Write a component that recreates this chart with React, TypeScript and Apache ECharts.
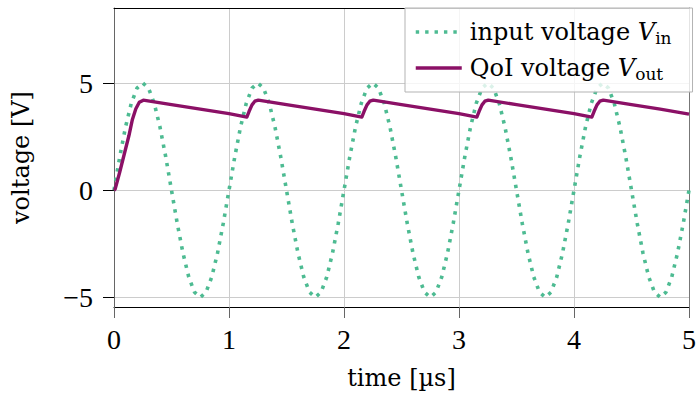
import React, { useEffect, useRef } from "react";
import * as echarts from "echarts";

// Input voltage V_in, sampled every 0.05 µs
const vinTimes = [
  0, 0.05, 0.1, 0.15, 0.2, 0.25, 0.3, 0.35, 0.4, 0.45, 0.5, 0.55, 0.6, 0.65, 0.7, 0.75, 0.8, 0.85, 0.9, 0.95,
  1, 1.05, 1.1, 1.15, 1.2, 1.25, 1.3, 1.35, 1.4, 1.45, 1.5, 1.55, 1.6, 1.65, 1.7, 1.75, 1.8, 1.85, 1.9, 1.95,
  2, 2.05, 2.1, 2.15, 2.2, 2.25, 2.3, 2.35, 2.4, 2.45, 2.5, 2.55, 2.6, 2.65, 2.7, 2.75, 2.8, 2.85, 2.9, 2.95,
  3, 3.05, 3.1, 3.15, 3.2, 3.25, 3.3, 3.35, 3.4, 3.45, 3.5, 3.55, 3.6, 3.65, 3.7, 3.75, 3.8, 3.85, 3.9, 3.95,
  4, 4.05, 4.1, 4.15, 4.2, 4.25, 4.3, 4.35, 4.4, 4.45, 4.5, 4.55, 4.6, 4.65, 4.7, 4.75, 4.8, 4.85, 4.9, 4.95,
  5,
];
const vinValues = [
  0, 1.55, 2.94, 4.05, 4.76, 5, 4.76, 4.05, 2.94, 1.55, 0, -1.55, -2.94, -4.05, -4.76, -5, -4.76, -4.05, -2.94, -1.55,
  0, 1.55, 2.94, 4.05, 4.76, 5, 4.76, 4.05, 2.94, 1.55, 0, -1.55, -2.94, -4.05, -4.76, -5, -4.76, -4.05, -2.94, -1.55,
  0, 1.55, 2.94, 4.05, 4.76, 5, 4.76, 4.05, 2.94, 1.55, 0, -1.55, -2.94, -4.05, -4.76, -5, -4.76, -4.05, -2.94, -1.55,
  0, 1.55, 2.94, 4.05, 4.76, 5, 4.76, 4.05, 2.94, 1.55, 0, -1.55, -2.94, -4.05, -4.76, -5, -4.76, -4.05, -2.94, -1.55,
  0, 1.55, 2.94, 4.05, 4.76, 5, 4.76, 4.05, 2.94, 1.55, 0, -1.55, -2.94, -4.05, -4.76, -5, -4.76, -4.05, -2.94, -1.55,
  0,
];

// Output (QoI) voltage V_out
const voutTimes = [
  0, 0.01, 0.05, 0.09, 0.13, 0.16, 0.19, 0.22, 0.255, 0.5, 0.75, 1.0,
  1.155, 1.175, 1.2, 1.225, 1.255, 1.5, 1.75, 2.0,
  2.155, 2.175, 2.2, 2.225, 2.255, 2.5, 2.75, 3.0,
  3.155, 3.175, 3.2, 3.225, 3.255, 3.5, 3.75, 4.0,
  4.155, 4.175, 4.2, 4.225, 4.255, 4.5, 4.75, 5.0,
];
const voutValues = [
  0, 0.05, 0.85, 1.7, 2.55, 3.3, 3.8, 4.1, 4.2, 3.99, 3.78, 3.57,
  3.41, 3.68, 3.98, 4.15, 4.2, 3.99, 3.78, 3.57,
  3.41, 3.68, 3.98, 4.15, 4.2, 3.99, 3.78, 3.57,
  3.41, 3.68, 3.98, 4.15, 4.2, 3.99, 3.78, 3.57,
  3.41, 3.68, 3.98, 4.15, 4.2, 3.99, 3.78, 3.55,
];

const xTicks = [0, 1, 2, 3, 4, 5];
const yTicks = [-5, 0, 5];

const GREEN = "#4dbb92";
const PURPLE = "#8b1066";

export default function App() {
  const ref = useRef<HTMLDivElement>(null);

  useEffect(() => {
    if (!ref.current) return;
    const chart = echarts.init(ref.current, null, { renderer: "svg" });

    const vinData = vinTimes.map((t, i) => [t, vinValues[i]]);
    const voutData = voutTimes.map((t, i) => [t, voutValues[i]]);

    const labelFont = "Liberation Serif";
    const textFont = "DejaVu Serif";

    chart.setOption({
      animation: false,
      backgroundColor: "#ffffff",
      grid: { left: 114, right: 7.3, top: 8, bottom: 87.7, containLabel: false },
      xAxis: [
        {
          type: "value",
          min: 0,
          max: 5,
          interval: 1,
          position: "bottom",
          name: "time [µs]",
          nameLocation: "middle",
          nameGap: 59,
          nameTextStyle: { fontFamily: textFont, fontSize: 24, color: "#000" },
          axisLine: { show: true, onZero: false, lineStyle: { color: "#000", width: 1 } },
          axisTick: { show: true, inside: false, length: 11, lineStyle: { color: "#666", width: 1 } },
          axisLabel: {
            show: true,
            margin: 18,
            fontFamily: labelFont,
            fontSize: 28,
            color: "#000",
            customValues: xTicks,
          },
          splitLine: { show: true, lineStyle: { color: "#cccccc", width: 1 } },
        },
        {
          type: "value",
          min: 0,
          max: 5,
          position: "top",
          axisLine: { show: true, onZero: false, lineStyle: { color: "#000", width: 1 } },
          axisTick: { show: false },
          axisLabel: { show: false },
          splitLine: { show: false },
        },
      ],
      yAxis: [
        {
          type: "value",
          min: -5.45,
          max: 8.5,
          position: "left",
          name: "voltage [V]",
          nameLocation: "middle",
          nameGap: 81,
          nameTextStyle: { fontFamily: textFont, fontSize: 24, color: "#000" },
          axisLine: { show: true, onZero: false, lineStyle: { color: "#666", width: 1 } },
          axisTick: { show: true, inside: false, length: 11, customValues: yTicks, lineStyle: { color: "#000", width: 1 } },
          axisLabel: {
            show: true,
            margin: 21,
            fontFamily: labelFont,
            fontSize: 28,
            color: "#000",
            customValues: yTicks,
            formatter: (v: number) => (v < 0 ? "\u2212" + Math.abs(v) : String(v)),
          },
          splitLine: { show: true, lineStyle: { color: "#cccccc", width: 1 } },
        },
        {
          type: "value",
          min: -5.45,
          max: 8.5,
          position: "right",
          axisLine: { show: true, onZero: false, lineStyle: { color: "#777", width: 1 } },
          axisTick: { show: false },
          axisLabel: { show: false },
          splitLine: { show: false },
        },
      ],
      legend: {
        orient: "vertical",
        left: 405,
        top: 8,
        padding: [10, 21, 10, 9],
        itemWidth: 46,
        itemHeight: 14,
        itemGap: 8,
        backgroundColor: "rgba(255,255,255,0.8)",
        borderColor: "#b3b3b3",
        borderWidth: 1,
        borderRadius: 0,
        z: 20,
        itemStyle: { opacity: 0, borderWidth: 0 },
        lineStyle: { width: 3.5 },
        data: ["Vin", "Vout"],
        textStyle: {
          fontFamily: textFont,
          fontSize: 24,
          lineHeight: 28,
          color: "#000",
          padding: [0, 0, 0, 3],
          rich: {
            v: { fontFamily: textFont, fontSize: 24, lineHeight: 28, fontStyle: "italic", color: "#000" },
            s: { fontFamily: textFont, fontSize: 17, lineHeight: 17, verticalAlign: "bottom", color: "#000" },
          },
        },
        formatter: (name: string) =>
          name === "Vin" ? "input voltage {v|V}{s|in}" : "QoI voltage {v|V}{s|out}",
      },
      series: [
        {
          name: "Vin",
          type: "line",
          xAxisIndex: 0,
          yAxisIndex: 0,
          data: vinData,
          showSymbol: false,
          symbol: "none",
          lineStyle: { color: GREEN, width: 3.6, type: [3.4, 6], cap: "butt" },
          itemStyle: { color: GREEN },
          z: 3,
        },
        {
          name: "Vout",
          type: "line",
          xAxisIndex: 0,
          yAxisIndex: 0,
          data: voutData,
          showSymbol: false,
          symbol: "none",
          lineStyle: { color: PURPLE, width: 3.4, join: "round" },
          itemStyle: { color: PURPLE },
          z: 4,
        },
      ],
    });

    return () => chart.dispose();
  }, []);

  return (
    <div
      ref={ref}
      style={{ position: "absolute", left: 0, top: 0, width: 699, height: 395, background: "#fff" }}
    />
  );
}
